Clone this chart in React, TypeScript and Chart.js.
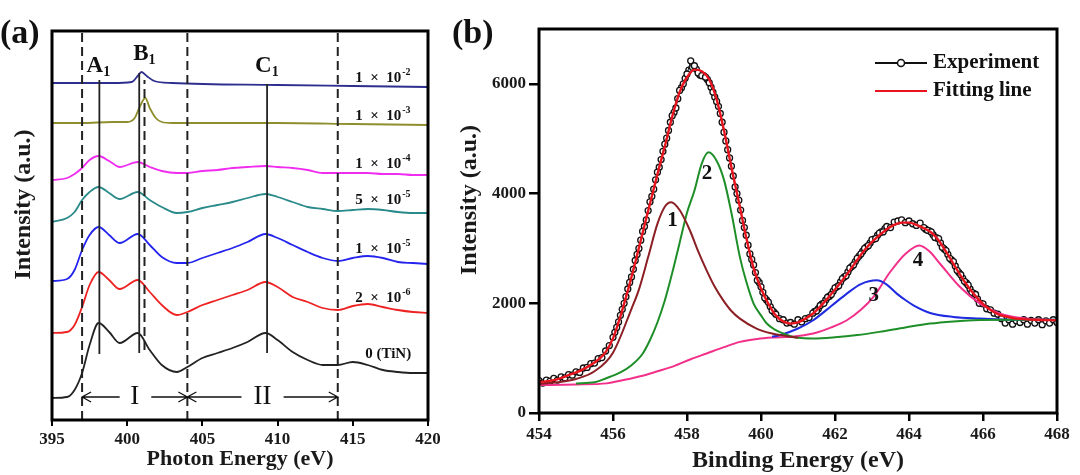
import React, { useEffect, useRef } from "react";
import { Chart, registerables } from "chart.js";
Chart.register(...registerables);

const SERIF = "'Liberation Serif', 'Times New Roman', 'DejaVu Serif', serif";

// ---------- Panel (a): XANES spectra (offset, arbitrary units) ----------
const xanesEnergy = [395, 396, 396.5, 397, 397.5, 398.1, 398.8, 399.5, 400.7, 401.5, 402.3, 403.3, 404, 405, 406, 407, 408, 409.2, 410, 411, 412, 413, 414, 415, 416, 417, 418, 419, 420];
const tinIntensity = [22, 23, 30, 47, 75, 97, 88, 77, 87, 70, 55, 48, 53, 62, 67, 72, 78, 87, 80, 68, 60, 55, 55, 58, 55, 50, 48, 47, 47];
const o2e6Intensity = [87, 88, 95, 113, 135, 148, 140, 131, 140, 128, 115, 105, 108, 115, 120, 125, 130, 138, 133, 123, 118, 112, 110, 114, 116, 113, 110, 108, 107];
const o1e5Intensity = [139, 141, 150, 170, 185, 193, 185, 177, 186, 175, 163, 157, 157, 162, 167, 172, 178, 186, 182, 175, 168, 162, 159, 162, 164, 162, 158, 157, 156];
const o5e5Intensity = [198, 202, 208, 220, 228, 233, 227, 221, 228, 220, 213, 207, 208, 212, 215, 218, 222, 226, 223, 218, 213, 211, 209, 210, 211, 210, 208, 207, 207];
const o1e4Intensity = [240, 242, 246, 252, 260, 264, 259, 253, 258, 253, 249, 247, 247, 249, 250, 252, 253, 254, 253, 252, 250, 247, 247, 247, 247, 246, 246, 245, 245];
const o1e3Energy = [395, 397, 399, 400, 400.5, 400.8, 401.2, 401.5, 401.9, 402.3, 403, 405, 410, 415, 420];
const o1e3Intensity = [297, 297, 298, 298, 302, 312, 322, 312, 302, 298, 297, 297, 297, 296, 295];
const o1e2Energy = [395, 399, 400.3, 400.7, 400.95, 401.3, 401.8, 403, 410, 415, 420];
const o1e2Intensity = [337, 337, 338, 344, 348, 344, 339, 337, 335, 334, 333];

const dashedEnergy = [397, 401.15, 404, 414];
const dashedLow = [0, 70, 0, 0];
const dashedHigh = [389, 340, 389, 389];
const solidEnergy = [398.15, 400.8, 409.3];
const solidLow = [66, 67, 67];
const solidHigh = [340, 347, 336];

const concBase = ["1 × 10", "1 × 10", "1 × 10", "5 × 10", "1 × 10", "2 × 10"];
const concExp = ["-2", "-3", "-4", "-5", "-5", "-6"];
const concLabelY = [338, 300, 252, 216, 167, 118];

// ---------- Panel (b): XPS Ti 2p ----------
const expEnergy = [
  454.0, 454.1, 454.2, 454.3, 454.4, 454.5, 454.6, 454.7, 454.8, 454.9,
  455.0, 455.1, 455.2, 455.3, 455.4, 455.5, 455.6, 455.7, 455.8, 455.9,
  456.0, 456.1, 456.2, 456.3, 456.4, 456.5, 456.6, 456.7, 456.8, 456.9,
  457.0, 457.1, 457.2, 457.3, 457.4, 457.5, 457.6, 457.7, 457.8, 457.9,
  458.0, 458.1, 458.2, 458.3, 458.4, 458.5, 458.6, 458.7, 458.8, 458.9,
  459.0, 459.1, 459.2, 459.3, 459.4, 459.5, 459.6, 459.7, 459.8, 459.9,
  460.0, 460.1, 460.2, 460.3, 460.4, 460.5, 460.6, 460.7, 460.8, 460.9,
  461.0, 461.1, 461.2, 461.3, 461.4, 461.5, 461.6, 461.7, 461.8, 461.9,
  462.0, 462.1, 462.2, 462.3, 462.4, 462.5, 462.6, 462.7, 462.8, 462.9,
  463.0, 463.1, 463.2, 463.3, 463.4, 463.5, 463.6, 463.7, 463.8, 463.9,
  464.0, 464.1, 464.2, 464.3, 464.4, 464.5, 464.6, 464.7, 464.8, 464.9,
  465.0, 465.1, 465.2, 465.3, 465.4, 465.5, 465.6, 465.7, 465.8, 465.9,
  466.0, 466.1, 466.2, 466.3, 466.4, 466.5, 466.6, 466.7, 466.8, 466.9,
  467.0, 467.1, 467.2, 467.3, 467.4, 467.5, 467.6, 467.7, 467.8, 467.9,
  468.0,
];
const expIntensity = [
  590, 545, 600, 580, 630, 600, 660, 640, 700, 690,
  750, 740, 820, 830, 900, 910, 990, 1010, 1130, 1230,
  1380, 1560, 1780, 2000, 2260, 2480, 2780, 3000, 3310, 3520,
  3850, 4080, 4390, 4620, 4900, 5150, 5420, 5560, 5880, 6000,
  6180, 6420, 6330, 6200, 6150, 6120, 6020, 5850, 5680, 5460,
  5120, 4800, 4500, 4120, 3880, 3510, 3240, 2900, 2700, 2420,
  2300, 2100, 2020, 1870, 1800, 1720, 1700, 1640, 1650, 1620,
  1700, 1660, 1720, 1740, 1820, 1860, 1960, 2000, 2110, 2160,
  2280, 2320, 2450, 2500, 2640, 2700, 2820, 2900, 3000, 3050,
  3160, 3180, 3280, 3300, 3400, 3380, 3480, 3500, 3520, 3470,
  3500, 3450, 3420, 3460, 3380, 3330, 3300, 3200, 3180, 3020,
  2960, 2820, 2760, 2600, 2520, 2400, 2330, 2200, 2160, 2000,
  1990, 1900, 1880, 1820, 1800, 1720, 1640, 1700, 1620, 1680,
  1650, 1700, 1620, 1690, 1640, 1700, 1610, 1680, 1640, 1700,
  1650,
];
// extra (denser) experimental points on the steep flanks
const expExtraEnergy = [
  456.05, 456.15, 456.25, 456.35, 456.45, 456.55, 456.65, 456.75, 456.85, 456.95,
  457.05, 457.15, 457.25, 457.35, 457.45, 457.55, 457.65, 457.75, 457.85, 457.95,
  458.05, 458.15, 458.25, 458.35, 458.45, 458.55, 458.65, 458.75, 458.85, 458.95,
  459.05, 459.15, 459.25, 459.35, 459.45, 459.55, 459.65, 459.75, 459.85, 459.95,
  460.05, 460.15, 460.25, 460.35,
  461.45, 461.55, 461.65, 461.75, 461.85, 461.95, 462.05, 462.15, 462.25, 462.35,
  462.45, 462.55, 462.65, 462.75, 462.85, 462.95, 463.05, 463.15, 463.25, 463.35,
  464.45, 464.55, 464.65, 464.75, 464.85, 464.95, 465.05, 465.15, 465.25, 465.35,
  465.45, 465.55, 465.65, 465.75, 465.85, 465.95,
];
const expExtraIntensity = [
  1470, 1660, 1890, 2120, 2380, 2620, 2890, 3150, 3400, 3690,
  3950, 4250, 4480, 4770, 5010, 5300, 5480, 5730, 5930, 6100,
  6250, 6300, 6270, 6160, 6150, 6080, 5940, 5760, 5590, 5300,
  4960, 4650, 4320, 4000, 3700, 3380, 3060, 2800, 2560, 2380,
  2200, 2060, 1940, 1840,
  1850, 1900, 1990, 2060, 2130, 2220, 2300, 2390, 2480, 2570,
  2670, 2760, 2860, 2950, 3030, 3100, 3170, 3240, 3300, 3360,
  3350, 3320, 3250, 3190, 3100, 2990, 2890, 2790, 2680, 2560,
  2460, 2370, 2260, 2180, 2080, 2000,
];
const fitEnergy = [454.0, 454.4, 454.8, 455.2, 455.6, 455.8, 456.0, 456.2, 456.4, 456.6, 456.8, 457.0, 457.2, 457.4, 457.6, 457.8, 458.0, 458.2, 458.4, 458.6, 458.8, 459.0, 459.2, 459.4, 459.6, 459.8, 460.0, 460.2, 460.4, 460.6, 460.8, 461.0, 461.2, 461.4, 461.6, 461.8, 462.0, 462.2, 462.4, 462.6, 462.8, 463.0, 463.2, 463.4, 463.6, 463.8, 464.0, 464.2, 464.4, 464.6, 464.8, 465.0, 465.2, 465.4, 465.6, 465.8, 466.0, 466.2, 466.4, 466.6, 466.8, 467.0, 467.4, 468.0];
const fitIntensity = [560, 600, 690, 800, 970, 1110, 1360, 1760, 2230, 2740, 3280, 3820, 4350, 4860, 5400, 5850, 6120, 6260, 6230, 6080, 5720, 5150, 4480, 3850, 3200, 2640, 2270, 1990, 1780, 1670, 1630, 1650, 1720, 1810, 1940, 2090, 2250, 2420, 2600, 2790, 2970, 3120, 3240, 3350, 3430, 3470, 3470, 3430, 3370, 3290, 3150, 2940, 2720, 2500, 2300, 2130, 1990, 1880, 1800, 1760, 1730, 1715, 1700, 1690];
const peak1Energy = [454.0, 454.5, 455.0, 455.5, 456.0, 456.5, 456.7, 456.95, 457.2, 457.4, 457.57, 457.8, 458.08, 458.3, 458.53, 458.75, 458.98, 459.2, 459.43, 459.88, 460.3, 460.7, 461.0];
const peak1Intensity = [530, 560, 620, 760, 1100, 1900, 2250, 2842, 3448, 3760, 3842, 3700, 3327, 2950, 2600, 2300, 2054, 1860, 1721, 1539, 1448, 1400, 1370];
const peak2Energy = [455.0, 455.5, 455.8, 456.2, 456.5, 456.8, 457.0, 457.2, 457.4, 457.6, 457.8, 458.0, 458.2, 458.4, 458.58, 458.8, 459.0, 459.2, 459.43, 459.6, 459.8, 460.0, 460.15, 460.35, 460.6, 460.8, 461.0, 461.4, 462.0, 462.6, 463.2, 463.9, 464.57, 465.2, 465.73, 466.8, 468.0];
const peak2Intensity = [540, 560, 630, 740, 870, 1080, 1330, 1650, 2050, 2550, 3100, 3650, 4050, 4550, 4752, 4600, 4250, 3650, 2842, 2400, 1994, 1780, 1636, 1530, 1450, 1400, 1370, 1358, 1380, 1420, 1479, 1560, 1630, 1670, 1691, 1700, 1700];
const peak3Energy = [460.3, 460.51, 461.0, 461.41, 461.9, 462.32, 462.7, 463.13, 463.4, 463.67, 463.9, 464.12, 464.57, 465.2, 465.9, 466.5, 467.2, 468.0];
const peak3Intensity = [1390, 1418, 1540, 1691, 1950, 2176, 2350, 2418, 2340, 2176, 2060, 1964, 1824, 1751, 1721, 1705, 1700, 1700];
const peak4Energy = [454.0, 455.0, 455.83, 456.28, 456.8, 457.2, 457.63, 458.1, 458.53, 459.0, 459.43, 459.9, 460.33, 460.8, 461.41, 461.9, 462.32, 462.7, 463.04, 463.49, 463.9, 464.28, 464.55, 464.84, 465.38, 465.92, 466.46, 467.18, 467.99];
const peak4Intensity = [509, 520, 540, 600, 680, 760, 850, 980, 1085, 1200, 1297, 1350, 1375, 1390, 1448, 1560, 1691, 1880, 2115, 2570, 2900, 3055, 2950, 2721, 2297, 1994, 1812, 1721, 1691];

const bYTicks = [0, 2000, 4000, 6000];
const peakLabels = ["1", "2", "3", "4"];
const peakLabelEnergy = [457.61, 458.54, 463.05, 464.24];
const peakLabelIntensity = [3509, 4364, 2145, 2782];

const toPts = (xs: number[], ys: number[]) => xs.map((x, i) => ({ x, y: ys[i] }));

function drawFrame(ctx: CanvasRenderingContext2D, ca: any) {
  ctx.save();
  ctx.lineWidth = 3;
  ctx.strokeStyle = "#000";
  ctx.strokeRect(ca.left, ca.top, ca.right - ca.left, ca.bottom - ca.top);
  ctx.restore();
}

function drawArrow(ctx: CanvasRenderingContext2D, xFrom: number, xTip: number, y: number) {
  const dir = xTip > xFrom ? 1 : -1;
  ctx.beginPath();
  ctx.moveTo(xFrom, y);
  ctx.lineTo(xTip, y);
  ctx.moveTo(xTip - dir * 9, y - 5);
  ctx.lineTo(xTip, y);
  ctx.lineTo(xTip - dir * 9, y + 5);
  ctx.stroke();
}

const panelAPlugin = {
  id: "panelA",
  afterDraw(chart: any) {
    const { ctx, chartArea: ca, scales } = chart;
    const x = scales.x, y = scales.y;
    drawFrame(ctx, ca);
    ctx.save();
    ctx.fillStyle = "#111";
    ctx.strokeStyle = "#111";
    ctx.textAlign = "left";
    ctx.textBaseline = "alphabetic";
    ctx.font = `bold 34px ${SERIF}`;
    ctx.fillText("(a)", 0, 43);

    const sub = (main: string, s: string, e: number, v: number) => {
      const px = x.getPixelForValue(e), py = y.getPixelForValue(v);
      ctx.font = `bold 23px ${SERIF}`;
      ctx.fillText(main, px, py);
      const w = ctx.measureText(main).width;
      ctx.font = `bold 14px ${SERIF}`;
      ctx.fillText(s, px + w, py + 4);
    };
    sub("A", "1", 397.3, 348);
    sub("B", "1", 400.4, 360);
    sub("C", "1", 408.5, 348);

    for (let i = 0; i < concBase.length; i++) {
      ctx.font = `bold 15px ${SERIF}`;
      const base = concBase[i].replace(" × ", "  ×  ");
      const w1 = ctx.measureText(base).width;
      ctx.font = `bold 10px ${SERIF}`;
      const w2 = ctx.measureText(concExp[i]).width;
      const cx = x.getPixelForValue(417.0);
      const by = y.getPixelForValue(concLabelY[i]);
      const x0 = cx - (w1 + w2 + 1) / 2;
      ctx.font = `bold 15px ${SERIF}`;
      ctx.fillText(base, x0, by);
      ctx.font = `bold 10px ${SERIF}`;
      ctx.fillText(concExp[i], x0 + w1 + 1, by - 7);
    }
    ctx.font = `bold 15px ${SERIF}`;
    ctx.textAlign = "center";
    ctx.fillText("0 (TiN)", x.getPixelForValue(417.35), y.getPixelForValue(62));

    ctx.lineWidth = 1.3;
    const ay = y.getPixelForValue(23);
    drawArrow(ctx, x.getPixelForValue(399.5), x.getPixelForValue(397), ay);
    drawArrow(ctx, x.getPixelForValue(401.6), x.getPixelForValue(404), ay);
    drawArrow(ctx, x.getPixelForValue(407.6), x.getPixelForValue(404), ay);
    drawArrow(ctx, x.getPixelForValue(410.4), x.getPixelForValue(414), ay);
    ctx.font = `27px ${SERIF}`;
    ctx.textBaseline = "middle";
    ctx.fillText("I", x.getPixelForValue(400.5), ay);
    ctx.fillText("II", x.getPixelForValue(409.0), ay);
    ctx.restore();
  },
};

const panelBPlugin = {
  id: "panelB",
  afterDraw(chart: any) {
    const { ctx, chartArea: ca, scales } = chart;
    const x = scales.x, y = scales.y;
    drawFrame(ctx, ca);
    ctx.save();
    ctx.fillStyle = "#111";
    ctx.textAlign = "left";
    ctx.textBaseline = "alphabetic";
    ctx.font = `bold 34px ${SERIF}`;
    ctx.fillText("(b)", 12, 43);

    ctx.font = `bold 21px ${SERIF}`;
    ctx.textAlign = "center";
    ctx.textBaseline = "middle";
    for (let i = 0; i < peakLabels.length; i++) {
      ctx.fillText(peakLabels[i], x.getPixelForValue(peakLabelEnergy[i]), y.getPixelForValue(peakLabelIntensity[i]));
    }

    const lx0 = ca.right - 182, lx1 = ca.right - 130, tx = ca.right - 124;
    const y1 = ca.top + 34, y2 = ca.top + 62;
    ctx.lineWidth = 2;
    ctx.strokeStyle = "#111";
    ctx.beginPath(); ctx.moveTo(lx0, y1); ctx.lineTo(lx1, y1); ctx.stroke();
    ctx.beginPath(); ctx.arc((lx0 + lx1) / 2, y1, 3.5, 0, Math.PI * 2);
    ctx.fillStyle = "#fff"; ctx.fill(); ctx.lineWidth = 1.5; ctx.stroke();
    ctx.strokeStyle = "#E8141E"; ctx.lineWidth = 2.2;
    ctx.beginPath(); ctx.moveTo(lx0, y2); ctx.lineTo(lx1, y2); ctx.stroke();
    ctx.fillStyle = "#111";
    ctx.font = `bold 21px ${SERIF}`;
    ctx.textAlign = "left";
    ctx.fillText("Experiment", tx, y1);
    ctx.fillText("Fitting line", tx, y2);
    ctx.restore();
  },
};

function lineDs(data: any[], color: string, width: number, extra: any = {}) {
  return {
    data,
    borderColor: color,
    backgroundColor: color,
    borderWidth: width,
    pointRadius: 0,
    fill: false,
    cubicInterpolationMode: "monotone",
    ...extra,
  };
}

const tickFont = { family: SERIF, size: 17, weight: "bold" as const };

function makeConfigA(): any {
  const spectra = [
    lineDs(toPts(o1e2Energy, o1e2Intensity), "#2E2E8F", 1.8),
    lineDs(toPts(o1e3Energy, o1e3Intensity), "#8E8E2E", 1.8),
    lineDs(toPts(xanesEnergy, o1e4Intensity), "#F02CF0", 1.8),
    lineDs(toPts(xanesEnergy, o5e5Intensity), "#2A8A8A", 1.8),
    lineDs(toPts(xanesEnergy, o1e5Intensity), "#2424EE", 1.8),
    lineDs(toPts(xanesEnergy, o2e6Intensity), "#EE2222", 1.8),
    lineDs(toPts(xanesEnergy, tinIntensity), "#222222", 1.8),
  ];
  const dashed = dashedEnergy.map((e, i) =>
    lineDs([{ x: e, y: dashedLow[i] }, { x: e, y: dashedHigh[i] }], "#222", 2, { borderDash: [9, 5], cubicInterpolationMode: "default", tension: 0 })
  );
  const solid = solidEnergy.map((e, i) =>
    lineDs([{ x: e, y: solidLow[i] }, { x: e, y: solidHigh[i] }], "#222", 1.8, { cubicInterpolationMode: "default", tension: 0 })
  );
  return {
    type: "line",
    data: { datasets: [...solid, ...dashed, ...spectra] },
    options: {
      responsive: false,
      animation: false,
      events: [],
      layout: { padding: { left: 0, right: 12, top: 31, bottom: 0 } },
      plugins: { legend: { display: false }, tooltip: { enabled: false } },
      scales: {
        x: {
          type: "linear",
          min: 395,
          max: 420,
          border: { display: false },
          ticks: { stepSize: 5, color: "#1a1a1a", font: tickFont, padding: 3, maxRotation: 0 },
          grid: { drawOnChartArea: false, drawTicks: true, tickLength: 6, color: "#000", lineWidth: 2 },
          title: { display: true, text: "Photon Energy (eV)", color: "#1a1a1a", font: { family: SERIF, size: 22, weight: "bold" }, padding: { top: 0, bottom: 2 } },
          afterFit: (s: any) => { s.height = 55; s.paddingLeft = 0; s.paddingRight = 0; },
        },
        y: {
          type: "linear",
          min: 0,
          max: 389,
          border: { display: false },
          ticks: { display: false },
          grid: { display: false },
          title: { display: true, text: "       Intensity (a.u.)", color: "#1a1a1a", font: { family: SERIF, size: 24, weight: "bold" }, padding: { top: 9, bottom: 0 } },
          afterFit: (s: any) => { s.width = 52; s.paddingTop = 0; s.paddingBottom = 0; },
        },
      },
    },
    plugins: [panelAPlugin],
  };
}

const expPointStyle = {
  pointRadius: 3,
  pointBorderWidth: 1.3,
  pointBorderColor: "#111",
  pointBackgroundColor: "#fff",
};

function makeConfigB(): any {
  return {
    type: "line",
    data: {
      datasets: [
        lineDs(toPts(fitEnergy, fitIntensity), "#E8141E", 2.4, { order: 0 }),
        lineDs(toPts(peak1Energy, peak1Intensity), "#8B1F24", 2, { order: 1 }),
        lineDs(toPts(peak2Energy, peak2Intensity), "#1E8F28", 2, { order: 2 }),
        lineDs(toPts(peak3Energy, peak3Intensity), "#1F2BE0", 2, { order: 3 }),
        lineDs(toPts(peak4Energy, peak4Intensity), "#F2308A", 2, { order: 4 }),
        {
          data: toPts(expEnergy, expIntensity),
          borderColor: "#111",
          borderWidth: 1,
          showLine: true,
          tension: 0,
          order: 10,
          ...expPointStyle,
        },
        {
          data: toPts(expExtraEnergy, expExtraIntensity),
          borderColor: "#111",
          borderWidth: 0,
          showLine: false,
          order: 11,
          ...expPointStyle,
        },
      ],
    },
    options: {
      responsive: false,
      animation: false,
      events: [],
      layout: { padding: { left: 0, right: 23, top: 29, bottom: 0 } },
      plugins: { legend: { display: false }, tooltip: { enabled: false } },
      scales: {
        x: {
          type: "linear",
          min: 454,
          max: 468,
          border: { display: false },
          ticks: { stepSize: 2, color: "#1a1a1a", font: tickFont, padding: 3, maxRotation: 0 },
          grid: { drawOnChartArea: false, drawTicks: true, tickLength: 8, color: "#000", lineWidth: 2.5 },
          title: { display: true, text: "Binding Energy (eV)", color: "#1a1a1a", font: { family: SERIF, size: 24, weight: "bold" }, padding: { top: 0, bottom: 0 } },
          afterFit: (s: any) => { s.height = 62; s.paddingLeft = 0; s.paddingRight = 0; },
        },
        y: {
          type: "linear",
          min: 0,
          max: 7000,
          border: { display: false },
          afterBuildTicks: (s: any) => { s.ticks = bYTicks.map((v) => ({ value: v })); },
          ticks: { color: "#1a1a1a", font: tickFont, padding: 3, callback: (v: any) => String(v) },
          grid: { drawOnChartArea: false, drawTicks: true, tickLength: 10, color: "#000", lineWidth: 2.5 },
          title: { display: true, text: "       Intensity (a.u.)", color: "#1a1a1a", font: { family: SERIF, size: 24, weight: "bold" }, padding: { top: 15, bottom: 0 } },
          afterFit: (s: any) => { s.width = 99; s.paddingTop = 0; s.paddingBottom = 0; },
        },
      },
    },
    plugins: [panelBPlugin],
  };
}

export default function App() {
  const refA = useRef<HTMLCanvasElement>(null);
  const refB = useRef<HTMLCanvasElement>(null);
  useEffect(() => {
    const a = new Chart(refA.current as HTMLCanvasElement, makeConfigA());
    const b = new Chart(refB.current as HTMLCanvasElement, makeConfigB());
    return () => {
      a.destroy();
      b.destroy();
    };
  }, []);
  return (
    <div style={{ position: "fixed", left: 0, top: 0, width: 1080, height: 475, background: "#fff" }}>
      <canvas ref={refA} width={440} height={475} style={{ position: "absolute", left: 0, top: 0 }} />
      <canvas ref={refB} width={640} height={475} style={{ position: "absolute", left: 440, top: 0 }} />
    </div>
  );
}
